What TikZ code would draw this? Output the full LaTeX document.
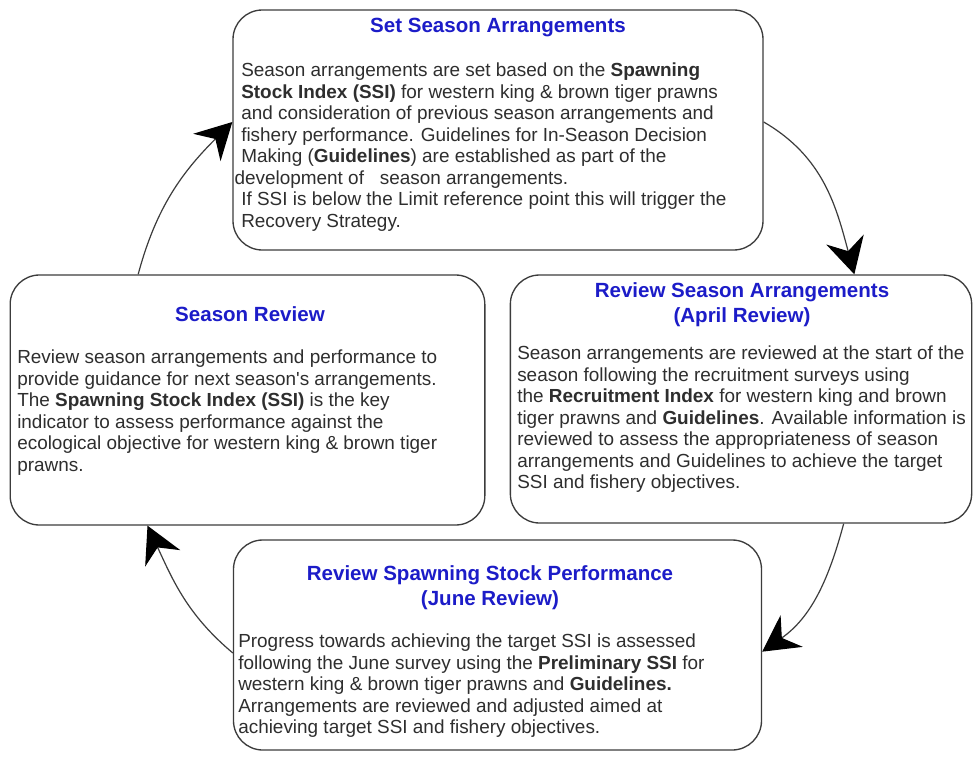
\documentclass[tikz,border=0pt]{standalone}
\usepackage{fontspec}
\setmainfont{Liberation Sans}
\usetikzlibrary{arrows.meta}
\definecolor{titleblue}{RGB}{28,28,200}
\definecolor{edgegrey}{RGB}{60,60,60}
\tikzset{
stage/.style={draw=edgegrey, line width=1pt, rounded corners=22pt, fill=white, inner sep=0pt},
stagetitle/.style={font=\fontsize{15.4}{19}\selectfont\bfseries, text=titleblue, align=center, inner sep=0pt},
stagetext/.style={font=\fontsize{14.2}{16.1}\selectfont, text=black!82, align=left, anchor=north west, inner sep=0pt},
flow/.style={draw=edgegrey, line width=0.9pt, -{Stealth[length=27pt, width=29pt, inset=9pt, black]}}
}
\begin{document}
\begin{tikzpicture}[x=0.75pt, y=-0.75pt]
\useasboundingbox (0,0) rectangle (975,761);
\fill[white] (0,0) rectangle (975,761);
\node[stage, minimum width=397.5pt, minimum height=180pt] (setbox) at (498,130) {};
\node[stage, minimum width=356pt, minimum height=187.5pt] (seasonbox) at (247.5,400) {};
\node[stage, minimum width=346pt, minimum height=186pt] (aprilbox) at (741,399) {};
\node[stage, minimum width=396pt, minimum height=157.5pt] (junebox) at (497.5,645) {};
\node[stagetitle] (settitle) at (498,28) {Set Season Arrangements};
\node[stagetitle] (seasontitle) at (250,314) {Season Review};
\node[stagetitle] (apriltitle) at (742,305) {Review Season Arrangements\\(April Review)};
\node[stagetitle] (junetitle) at (490,588) {Review Spawning Stock Performance\\(June Review)};
\node[stagetext] (settext) at (241,63) {Season arrangements are set based on the \textbf{Spawning}\\
\textbf{Stock Index (SSI)} for western king \& brown tiger prawns\\
and consideration of previous season arrangements and\\
fishery performance. Guidelines for In-Season Decision\\
Making (\textbf{Guidelines}) are established as part of the\\
\hspace*{-5pt}development of\ \ \ season arrangements.\\
If SSI is below the Limit reference point this will trigger the\\
Recovery Strategy.};
\node[stagetext] (seasontext) at (17,350) {Review season arrangements and performance to\\
provide guidance for next season\textquotesingle s arrangements.\\
The \textbf{Spawning Stock Index (SSI)} is the key\\
indicator to assess performance against the\\
ecological objective for western king \& brown tiger\\
prawns.};
\node[stagetext] (apriltext) at (517,346) {Season arrangements are reviewed at the start of the\\
season following the recruitment surveys using\\
the \textbf{Recruitment Index} for western king and brown\\
tiger prawns and \textbf{Guidelines}. Available information is\\
reviewed to assess the appropriateness of season\\
arrangements and Guidelines to achieve the target\\
SSI and fishery objectives.};
\node[stagetext] (junetext) at (238,634) {Progress towards achieving the target SSI is assessed\\
following the June survey using the \textbf{Preliminary SSI} for\\
western king \& brown tiger prawns and \textbf{Guidelines.}\\
Arrangements are reviewed and adjusted aimed at\\
achieving target SSI and fishery objectives.};
\draw[flow] ([yshift=6pt]setbox.east) to[out=-30, in=105] ([xshift=85pt]aprilbox.north);
\draw[flow] ([xshift=77pt]aprilbox.south) to[out=-105, in=35] ([yshift=-5pt]junebox.east);
\draw[flow] ([yshift=-6pt]junebox.west) to[out=140, in=-65] ([xshift=-75pt]seasonbox.south);
\draw[flow] ([xshift=-82pt]seasonbox.north) to[out=75, in=-135] ([yshift=6pt]setbox.west);
\end{tikzpicture}
\end{document}
